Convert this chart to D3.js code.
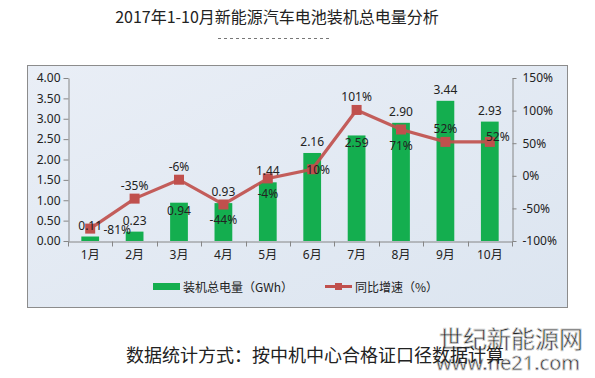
<!DOCTYPE html>
<html lang="zh-CN">
<head>
    <meta charset="UTF-8">
    <title>2017年1-10月新能源汽车电池装机总电量分析</title>
    <script src="https://d3js.org/d3.v7.min.js"></script>
    <style>
        body {
            margin: 0;
            background-color: #ffffff;
            font-family: "Noto Sans", "Noto Sans CJK SC", sans-serif;
        }
        svg text {
            fill: #222;
        }
    </style>
</head>
<body>
    <div id="chart"></div>

    <script>
        // 数据
        const months = ["1月", "2月", "3月", "4月", "5月", "6月", "7月", "8月", "9月", "10月"];
        const capacity = [0.11, 0.23, 0.94, 0.93, 1.44, 2.16, 2.59, 2.90, 3.44, 2.93];   // GWh
        const growth = [-81, -35, -6, -44, -4, 10, 101, 71, 52, 52];                     // %
        const leftTicks = [0, 0.5, 1, 1.5, 2, 2.5, 3, 3.5, 4];
        const rightTicks = [-100, -50, 0, 50, 100, 150];

        // 标签摆放（避免重叠）
        const barLabelPos = ["above", "above", "inside", "above", "above", "above", "inside", "above", "above", "above"];
        const lineLabelPos = ["farright", "above", "above", "below", "below", "right", "above", "below", "above", "upright"];

        const width = 595;
        const height = 378;
        const green = "#14ae4f";
        const red = "#c0504d";

        const svg = d3.select("#chart")
            .append("svg")
            .attr("width", width)
            .attr("height", height);

        // 标题
        svg.append("text")
            .attr("x", 277)
            .attr("y", 23)
            .attr("text-anchor", "middle")
            .style("font-family", "'Noto Sans CJK SC', sans-serif")
            .style("font-size", "16px")
            .text("2017年1-10月新能源汽车电池装机总电量分析");

        svg.append("line")
            .attr("x1", 218).attr("x2", 330)
            .attr("y1", 38.5).attr("y2", 38.5)
            .attr("stroke", "#777")
            .attr("stroke-dasharray", "3,3");

        // 图表背景
        const grad = svg.append("defs").append("linearGradient")
            .attr("id", "bg").attr("x1", 0).attr("y1", 0).attr("x2", 1).attr("y2", 1);
        grad.append("stop").attr("offset", "0%").attr("stop-color", "#e9eef6");
        grad.append("stop").attr("offset", "100%").attr("stop-color", "#dce5f0");

        svg.append("rect")
            .attr("x", 27.5).attr("y", 65.5)
            .attr("width", 540).attr("height", 242)
            .attr("fill", "url(#bg)")
            .attr("stroke", "#8c8c8c");

        // 比例尺
        const x = d3.scaleBand()
            .domain(months)
            .range([68, 512])
            .paddingInner(0.6)
            .paddingOuter(0.3);

        const y = d3.scaleLinear().domain([0, 4]).range([241, 78]);
        const yR = d3.scaleLinear().domain([-100, 150]).range([241, 78]);

        const cx = m => x(m) + x.bandwidth() / 2;

        // 左轴
        const gL = svg.append("g")
            .attr("transform", "translate(68.5,0)")
            .call(d3.axisLeft(y).tickValues(leftTicks).tickFormat(d3.format(".2f"))
                .tickSize(5).tickSizeOuter(0).tickPadding(3));

        // 右轴
        const gR = svg.append("g")
            .attr("transform", "translate(512.5,0)")
            .call(d3.axisRight(yR).tickValues(rightTicks).tickFormat(d => d + "%")
                .tickSize(4).tickSizeOuter(0).tickPadding(6));

        // 横轴
        const gX = svg.append("g")
            .attr("transform", "translate(0,241.5)")
            .call(d3.axisBottom(x).tickSize(0).tickSizeOuter(0).tickPadding(9));

        // 类别分隔刻度
        const step = x.step();
        gX.selectAll(".sep")
            .data(d3.range(months.length + 1))
            .enter()
            .append("line")
            .attr("x1", i => Math.round(cx(months[0]) - step / 2 + i * step) + 0.5)
            .attr("x2", i => Math.round(cx(months[0]) - step / 2 + i * step) + 0.5)
            .attr("y1", 0).attr("y2", 5)
            .attr("stroke", "#868686");

        [gL, gR, gX].forEach(g => {
            g.selectAll("path, line").attr("stroke", "#868686");
            g.selectAll("text")
                .style("font-size", "12px")
                .style("font-family", "'Noto Sans', 'Noto Sans CJK SC', sans-serif")
                .attr("fill", "#222");
        });

        // 柱子
        svg.append("g")
            .selectAll("rect")
            .data(capacity)
            .enter()
            .append("rect")
            .attr("x", (d, i) => x(months[i]))
            .attr("y", d => y(d))
            .attr("width", x.bandwidth())
            .attr("height", d => y(0) - y(d))
            .attr("fill", green);

        // 折线
        const line = d3.line()
            .x((d, i) => cx(months[i]))
            .y(d => yR(d));

        svg.append("path")
            .datum(growth)
            .attr("d", line)
            .attr("fill", "none")
            .attr("stroke", red)
            .attr("stroke-width", 3.2)
            .attr("stroke-opacity", 0.92);

        svg.append("g")
            .selectAll("rect")
            .data(growth)
            .enter()
            .append("rect")
            .attr("x", (d, i) => cx(months[i]) - 5)
            .attr("y", d => yR(d) - 5)
            .attr("width", 10)
            .attr("height", 10)
            .attr("fill", red);

        // 柱子数值标签
        svg.append("g")
            .selectAll("text")
            .data(capacity)
            .enter()
            .append("text")
            .attr("x", (d, i) => cx(months[i]))
            .attr("y", (d, i) => barLabelPos[i] === "inside" ? y(d) + 12 : y(d) - 7)
            .attr("text-anchor", "middle")
            .style("font-size", "12px")
            .text(d => d.toFixed(2));

        // 增速标签
        const offsets = {
            above: [0, -9],
            below: [0, 20],
            right: [6, 5],
            farright: [27, 5],
            upright: [8, -1]
        };
        svg.append("g")
            .selectAll("text")
            .data(growth)
            .enter()
            .append("text")
            .attr("x", (d, i) => cx(months[i]) + offsets[lineLabelPos[i]][0])
            .attr("y", (d, i) => yR(d) + offsets[lineLabelPos[i]][1])
            .attr("text-anchor", "middle")
            .style("font-size", "12px")
            .text(d => d + "%");

        // 图例
        const legend = svg.append("g").attr("transform", "translate(153,287)");
        legend.append("rect")
            .attr("x", 0).attr("y", -4)
            .attr("width", 27).attr("height", 7)
            .attr("fill", green);
        legend.append("text")
            .attr("x", 30).attr("y", 4.5)
            .style("font-size", "12px")
            .style("font-family", "'Noto Sans CJK SC', sans-serif")
            .text("装机总电量（GWh）");

        legend.append("line")
            .attr("x1", 172).attr("x2", 199)
            .attr("y1", -0.5).attr("y2", -0.5)
            .attr("stroke", red)
            .attr("stroke-width", 3);
        legend.append("rect")
            .attr("x", 182).attr("y", -4)
            .attr("width", 7).attr("height", 7)
            .attr("fill", red);
        legend.append("text")
            .attr("x", 202).attr("y", 4.5)
            .style("font-size", "12px")
            .style("font-family", "'Noto Sans CJK SC', sans-serif")
            .text("同比增速（%）");

        // 水印
        svg.append("text")
            .attr("x", 511).attr("y", 348)
            .attr("text-anchor", "middle")
            .style("font-size", "24px")
            .style("font-family", "'Noto Sans CJK SC', sans-serif")
            .attr("fill", "#f6f6f6")
            .attr("stroke", "#d4d4d4")
            .attr("stroke-width", 0.8)
            .text("世纪新能源网");
        svg.append("text")
            .attr("x", 508).attr("y", 370)
            .attr("text-anchor", "middle")
            .style("font-size", "20px")
            .style("font-family", "'Noto Sans', sans-serif")
            .attr("fill", "#f6f6f6")
            .attr("stroke", "#d4d4d4")
            .attr("stroke-width", 0.8)
            .text("www.ne21.com");

        // 底部说明
        svg.append("text")
            .attr("x", 315)
            .attr("y", 362)
            .attr("text-anchor", "middle")
            .style("font-family", "'Noto Sans CJK SC', sans-serif")
            .style("font-size", "18px")
            .attr("fill", "#111")
            .text("数据统计方式：按中机中心合格证口径数据计算");
    </script>
</body>
</html>
